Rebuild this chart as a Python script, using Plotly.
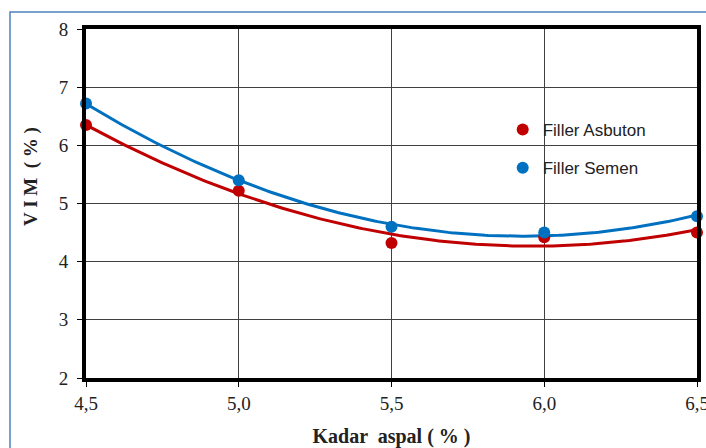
import numpy as np
import plotly.graph_objects as go

kadar_aspal = [4.5, 5.0, 5.5, 6.0, 6.5]
vim_asbuton = [6.35, 5.22, 4.32, 4.42, 4.50]
vim_semen = [6.72, 5.40, 4.60, 4.50, 4.78]
x_tick_vals = [4.5, 5.0, 5.5, 6.0, 6.5]
x_tick_text = ["4,5", "5,0", "5,5", "6,0", "6,5"]
y_tick_vals = [2, 3, 4, 5, 6, 7, 8]

RED = "#C00000"
BLUE = "#0070C0"
SERIF = "Liberation Serif, Times New Roman, serif"

fig = go.Figure()

xs = np.linspace(min(kadar_aspal), max(kadar_aspal), 200)
for name, ys, col in [("Filler Asbuton", vim_asbuton, RED), ("Filler Semen", vim_semen, BLUE)]:
    coef = np.polyfit(kadar_aspal, ys, 2)
    fig.add_trace(go.Scatter(x=xs, y=np.polyval(coef, xs), mode="lines",
                             line=dict(color=col, width=3), showlegend=False,
                             hoverinfo="skip", cliponaxis=False))

for name, ys, col in [("Filler Asbuton", vim_asbuton, RED), ("Filler Semen", vim_semen, BLUE)]:
    fig.add_trace(go.Scatter(x=kadar_aspal, y=ys, mode="markers", name=name,
                             legendgroup=name,
                             marker=dict(color=col, size=12), cliponaxis=False))

fig.update_layout(
    width=706, height=448,
    margin=dict(l=86, r=9, t=29, b=70, autoexpand=False),
    paper_bgcolor="white", plot_bgcolor="white",
    showlegend=True,
    legend=dict(x=0.682, y=0.762, xanchor="left", yanchor="top",
                bgcolor="rgba(255,255,255,0)", borderwidth=0,
                font=dict(family="Liberation Sans, Arial", size=17, color="#222"),
                tracegroupgap=13, traceorder="grouped"),
    xaxis=dict(range=[4.5, 6.5], tickvals=x_tick_vals, ticktext=x_tick_text,
               automargin=False, ticklabeloverflow="allow",
               showgrid=True, gridcolor="#404040", gridwidth=1,
               showline=True, mirror=True, linecolor="black", linewidth=4,
               ticks="outside", ticklen=5, tickcolor="black", zeroline=False,
               ticklabelstandoff=0,
               tickfont=dict(family=SERIF, size=19, color="#222"),
               title=dict(text="<b>Kadar  aspal ( % )</b>", standoff=26,
                          font=dict(family=SERIF, size=20, color="#222"))),
    yaxis=dict(range=[2, 8], tickvals=y_tick_vals,
               automargin=False,
               showgrid=True, gridcolor="#404040", gridwidth=1,
               showline=True, mirror=True, linecolor="black", linewidth=4,
               ticks="outside", ticklen=5, tickcolor="black", zeroline=False,
               ticklabelstandoff=5,
               tickfont=dict(family=SERIF, size=19, color="#222")),
    annotations=[dict(text="<b>V I M  ( % )</b>", xref="paper", yref="paper",
                      x=-0.09, y=0.576, showarrow=False, textangle=-90,
                      xanchor="center", yanchor="middle",
                      font=dict(family=SERIF, size=19, color="#222"))],
    shapes=[dict(type="rect", xref="paper", yref="paper",
                 x0=-0.1244, x1=1.2, y0=-0.4, y1=1.0487,
                 line=dict(color="#4F81BD", width=1.5), layer="below")],
)

fig.write_html("out.html")
